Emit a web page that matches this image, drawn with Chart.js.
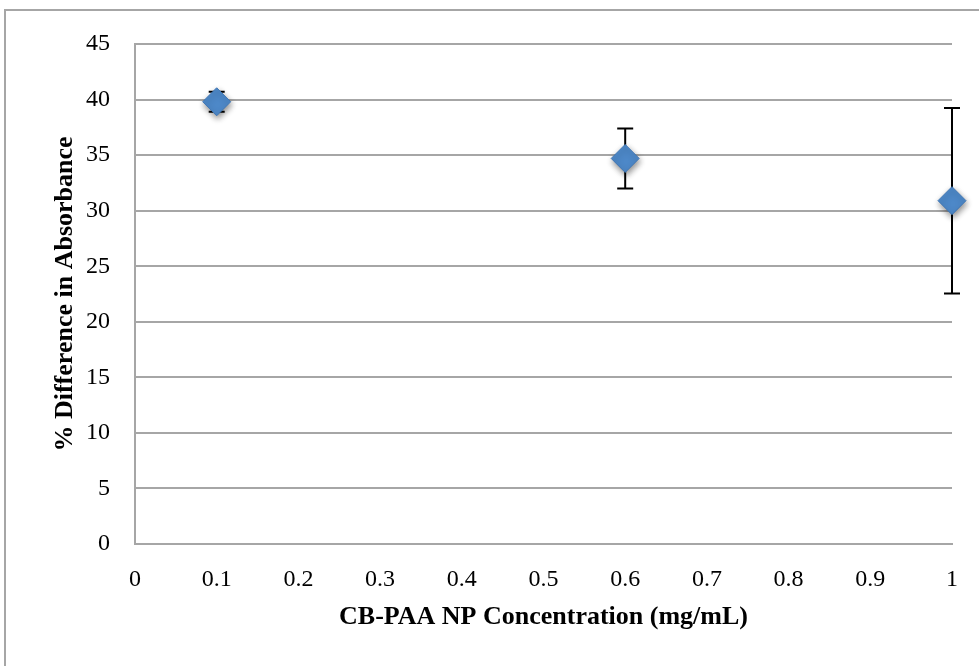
<!DOCTYPE html>
<html>
<head>
<meta charset="utf-8">
<script src="https://cdn.jsdelivr.net/npm/chart.js@4/dist/chart.umd.min.js"></script>
<style>
  html, body { margin: 0; padding: 0; background: #fff; }
  #wrap { position: relative; width: 979px; height: 666px; overflow: hidden; }
  #frame { position: absolute; left: 4px; top: 9px; width: 1000px; height: 700px;
           border-left: 2px solid #a6a6a6; border-top: 2px solid #a6a6a6; box-sizing: border-box; }
  #c { position: absolute; left: 0; top: 0; }
</style>
</head>
<body>
<div id="wrap">
  <div id="frame"></div>
  <canvas id="c" width="979" height="666"></canvas>
</div>
<script>
// Data
const concentrations = [0.1, 0.6, 1.0];
const percentDifference = [39.8, 34.7, 30.9];
const errorAmounts = [0.9, 2.7, 8.35];
const xTickLabels = ['0', '0.1', '0.2', '0.3', '0.4', '0.5', '0.6', '0.7', '0.8', '0.9', '1'];
const yTickLabels = ['0', '5', '10', '15', '20', '25', '30', '35', '40', '45'];
const xTitle = 'CB-PAA NP Concentration (mg/mL)';
const yTitle = '% Difference in Absorbance';

const points = concentrations.map((x, i) => ({ x: x, y: percentDifference[i] }));

const errorBarPlugin = {
  id: 'errorBars',
  beforeDatasetsDraw(chart) {
    const ctx = chart.ctx;
    const xs = chart.scales.x, ys = chart.scales.y;
    ctx.save();
    ctx.strokeStyle = '#000';
    ctx.lineWidth = 2;
    concentrations.forEach((cx, i) => {
      const px = xs.getPixelForValue(cx);
      const top = ys.getPixelForValue(percentDifference[i] + errorAmounts[i]);
      const bot = ys.getPixelForValue(percentDifference[i] - errorAmounts[i]);
      ctx.beginPath();
      ctx.moveTo(px, top); ctx.lineTo(px, bot);
      ctx.moveTo(px - 8, top); ctx.lineTo(px + 8, top);
      ctx.moveTo(px - 8, bot); ctx.lineTo(px + 8, bot);
      ctx.stroke();
    });
    ctx.restore();
  }
};

const shadowPlugin = {
  id: 'markerShadow',
  beforeDatasetDraw(chart) {
    const ctx = chart.ctx;
    ctx.save();
    ctx.shadowColor = 'rgba(0,0,0,0.45)';
    ctx.shadowBlur = 6;
    ctx.shadowOffsetX = 1;
    ctx.shadowOffsetY = 3;
  },
  afterDatasetDraw(chart) {
    chart.ctx.restore();
  }
};

const tickFont = { family: '"Liberation Serif", "Times New Roman", serif', size: 24 };
const titleFont = { family: '"Liberation Serif", "Times New Roman", serif', size: 26, weight: 'bold' };

new Chart(document.getElementById('c'), {
  type: 'scatter',
  data: {
    datasets: [{
      data: points,
      clip: false,
      pointStyle: 'rectRot',
      pointRadius: 14,
      pointHoverRadius: 14,
      backgroundColor: '#4d88c8',
      borderColor: '#3f76b4',
      borderWidth: 1
    }]
  },
  options: {
    responsive: false,
    animation: false,
    events: [],
    layout: { padding: { left: 0, right: 24, top: 44, bottom: 0 } },
    plugins: { legend: { display: false }, tooltip: { enabled: false } },
    scales: {
      x: {
        type: 'linear',
        min: 0, max: 1,
        afterBuildTicks(scale) {
          scale.ticks = xTickLabels.map(v => ({ value: parseFloat(v) }));
        },
        afterFit(scale) { scale.height = 122; },
        ticks: {
          color: '#000', font: tickFont, padding: 21, maxRotation: 0, autoSkip: false,
          callback: (v, i) => xTickLabels[i]
        },
        grid: { display: false, drawTicks: false },
        border: { display: true, color: '#a6a6a6', width: 2 },
        title: { display: true, text: xTitle, color: '#000', font: titleFont, padding: { top: 0, bottom: 33 } }
      },
      y: {
        type: 'linear',
        min: 0, max: 45,
        afterBuildTicks(scale) {
          scale.ticks = yTickLabels.map(v => ({ value: parseFloat(v) }));
        },
        afterFit(scale) { scale.width = 135; },
        ticks: {
          color: '#000', font: tickFont, padding: 25, autoSkip: false,
          callback: (v, i) => yTickLabels[i]
        },
        grid: { color: '#a6a6a6', lineWidth: 2, drawTicks: false },
        border: { display: true, color: '#a6a6a6', width: 2 },
        title: { display: true, text: yTitle, color: '#000', font: titleFont, padding: { top: 50, bottom: 0 } }
      }
    }
  },
  plugins: [errorBarPlugin, shadowPlugin]
});
</script>
</body>
</html>
